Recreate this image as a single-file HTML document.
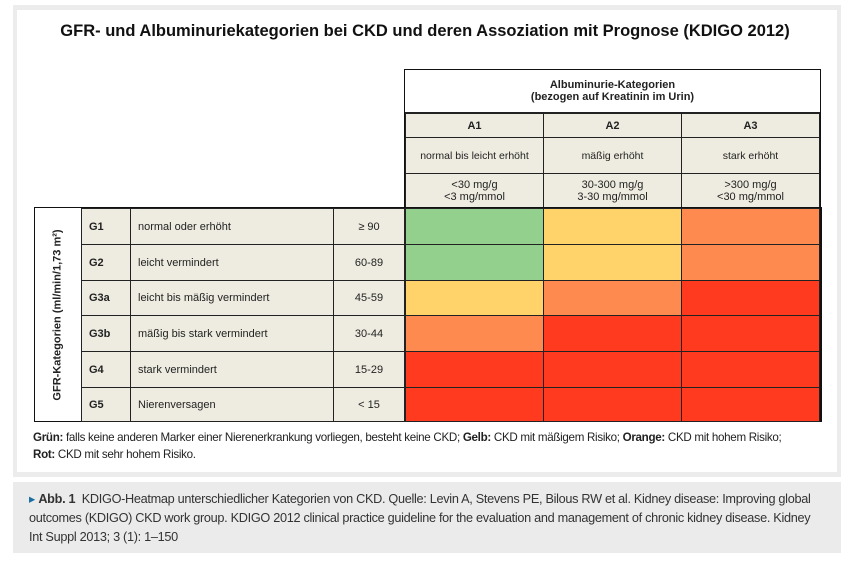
<!DOCTYPE html>
<html><head><meta charset="utf-8"><style>
body{margin:0;width:850px;height:563px;background:#fff;font-family:"Liberation Sans",sans-serif;position:relative;overflow:hidden}
.a{position:absolute;box-sizing:border-box}
.c{position:absolute;box-sizing:border-box;display:flex;align-items:center;border:1px solid #222;font-size:11px;color:#222}
.b{background:#eeece0}
.ctr{justify-content:center;text-align:center}
</style></head><body>
<div class="a" style="left:13px;top:5px;width:828px;height:472px;background:#ececec"></div>
<div class="a" style="left:17px;top:10px;width:820px;height:462px;background:#fff"></div>
<div class="a" style="left:13px;top:482px;width:828px;height:71px;background:#ebebeb"></div>
<div class="a" style="left:0;top:22px;width:850px;text-align:center;font-weight:bold;font-size:16.5px;color:#111">GFR- und Albuminuriekategorien bei CKD und deren Assoziation mit Prognose (KDIGO 2012)</div>

<div class="a" style="left:404px;top:69px;width:417px;height:140px;border:2px solid #111"></div>
<div class="c ctr" style="left:405px;top:70px;width:415px;height:43px;background:#fff;font-weight:bold;font-size:11px;border:none;border-bottom:1px solid #222">Albuminurie-Kategorien<br>(bezogen auf Kreatinin im Urin)</div>
<div class="c ctr b" style="left:405px;top:113px;width:139px;height:25px;font-weight:bold">A1</div>
<div class="c ctr b" style="left:543px;top:113px;width:139px;height:25px;font-weight:bold">A2</div>
<div class="c ctr b" style="left:681px;top:113px;width:139px;height:25px;font-weight:bold">A3</div>
<div class="c ctr b" style="left:405px;top:137px;width:139px;height:37px;font-size:10.5px">normal bis leicht erhöht</div>
<div class="c ctr b" style="left:543px;top:137px;width:139px;height:37px;font-size:10.5px">mäßig erhöht</div>
<div class="c ctr b" style="left:681px;top:137px;width:139px;height:37px;font-size:10.5px">stark erhöht</div>
<div class="c ctr b" style="left:405px;top:173px;width:139px;height:36px">&lt;30 mg/g<br>&lt;3 mg/mmol</div>
<div class="c ctr b" style="left:543px;top:173px;width:139px;height:36px">30-300 mg/g<br>3-30 mg/mmol</div>
<div class="c ctr b" style="left:681px;top:173px;width:139px;height:36px">&gt;300 mg/g<br>&lt;30 mg/mmol</div>

<div class="a" style="left:34px;top:207px;width:788px;height:215px;border:2px solid #111"></div>
<div class="c ctr" style="left:35px;top:208px;width:47px;height:213px;background:#fff;border:none;border-right:1px solid #222">
<div style="transform:rotate(-90deg);white-space:nowrap;font-weight:bold;font-size:11px">GFR-Kategorien (ml/min/1,73 m²)</div></div>
<div id="rows"></div>

<div class="a" style="left:33px;top:429px;width:800px;font-size:11.6px;letter-spacing:-0.3px;line-height:17px;color:#222;white-space:nowrap"><b>Grün:</b> falls keine anderen Marker einer Nierenerkrankung vorliegen, besteht keine CKD; <b>Gelb:</b> CKD mit mäßigem Risiko; <b>Orange:</b> CKD mit hohem Risiko;<br><b>Rot:</b> CKD mit sehr hohem Risiko.</div>
<div class="a" style="left:29px;top:490px;width:810px;font-size:12.7px;letter-spacing:-0.3px;line-height:19px;color:#333;white-space:nowrap"><span style="color:#1a6fa0">▸</span> <b>Abb. 1</b>&nbsp; KDIGO-Heatmap unterschiedlicher Kategorien von CKD. Quelle: Levin A, Stevens PE, Bilous RW et al. Kidney disease: Improving global<br>outcomes (KDIGO) CKD work group. KDIGO 2012 clinical practice guideline for the evaluation and management of chronic kidney disease. Kidney<br>Int Suppl 2013; 3 (1): 1–150</div>
<script>
var G='#93d08d',Y='#ffd36a',O='#ff8a50',R='#ff3a1f';
var rows=[["G1","normal oder erhöht","≥ 90",[G,Y,O]],["G2","leicht vermindert","60-89",[G,Y,O]],["G3a","leicht bis mäßig vermindert","45-59",[Y,O,R]],["G3b","mäßig bis stark vermindert","30-44",[O,R,R]],["G4","stark vermindert","15-29",[R,R,R]],["G5","Nierenversagen","< 15",[R,R,R]]];
var h='',ys=[208,244,280,315,351,387,421];
rows.forEach(function(r,i){var y=ys[i],hh=ys[i+1]-y+1;
h+='<div class="c b" style="left:81px;top:'+y+'px;width:50px;height:'+hh+'px;padding-left:7px;font-weight:bold">'+r[0]+'</div>';
h+='<div class="c b" style="left:130px;top:'+y+'px;width:204px;height:'+hh+'px;padding-left:7px">'+r[1]+'</div>';
h+='<div class="c b ctr" style="left:333px;top:'+y+'px;width:72px;height:'+hh+'px">'+r[2].replace('<','&lt;')+'</div>';
[405,543,681].forEach(function(x,j){h+='<div class="c" style="left:'+x+'px;top:'+y+'px;width:139px;height:'+hh+'px;background:'+r[3][j]+'"></div>';});});
document.getElementById('rows').innerHTML=h;
</script>
</body></html>
